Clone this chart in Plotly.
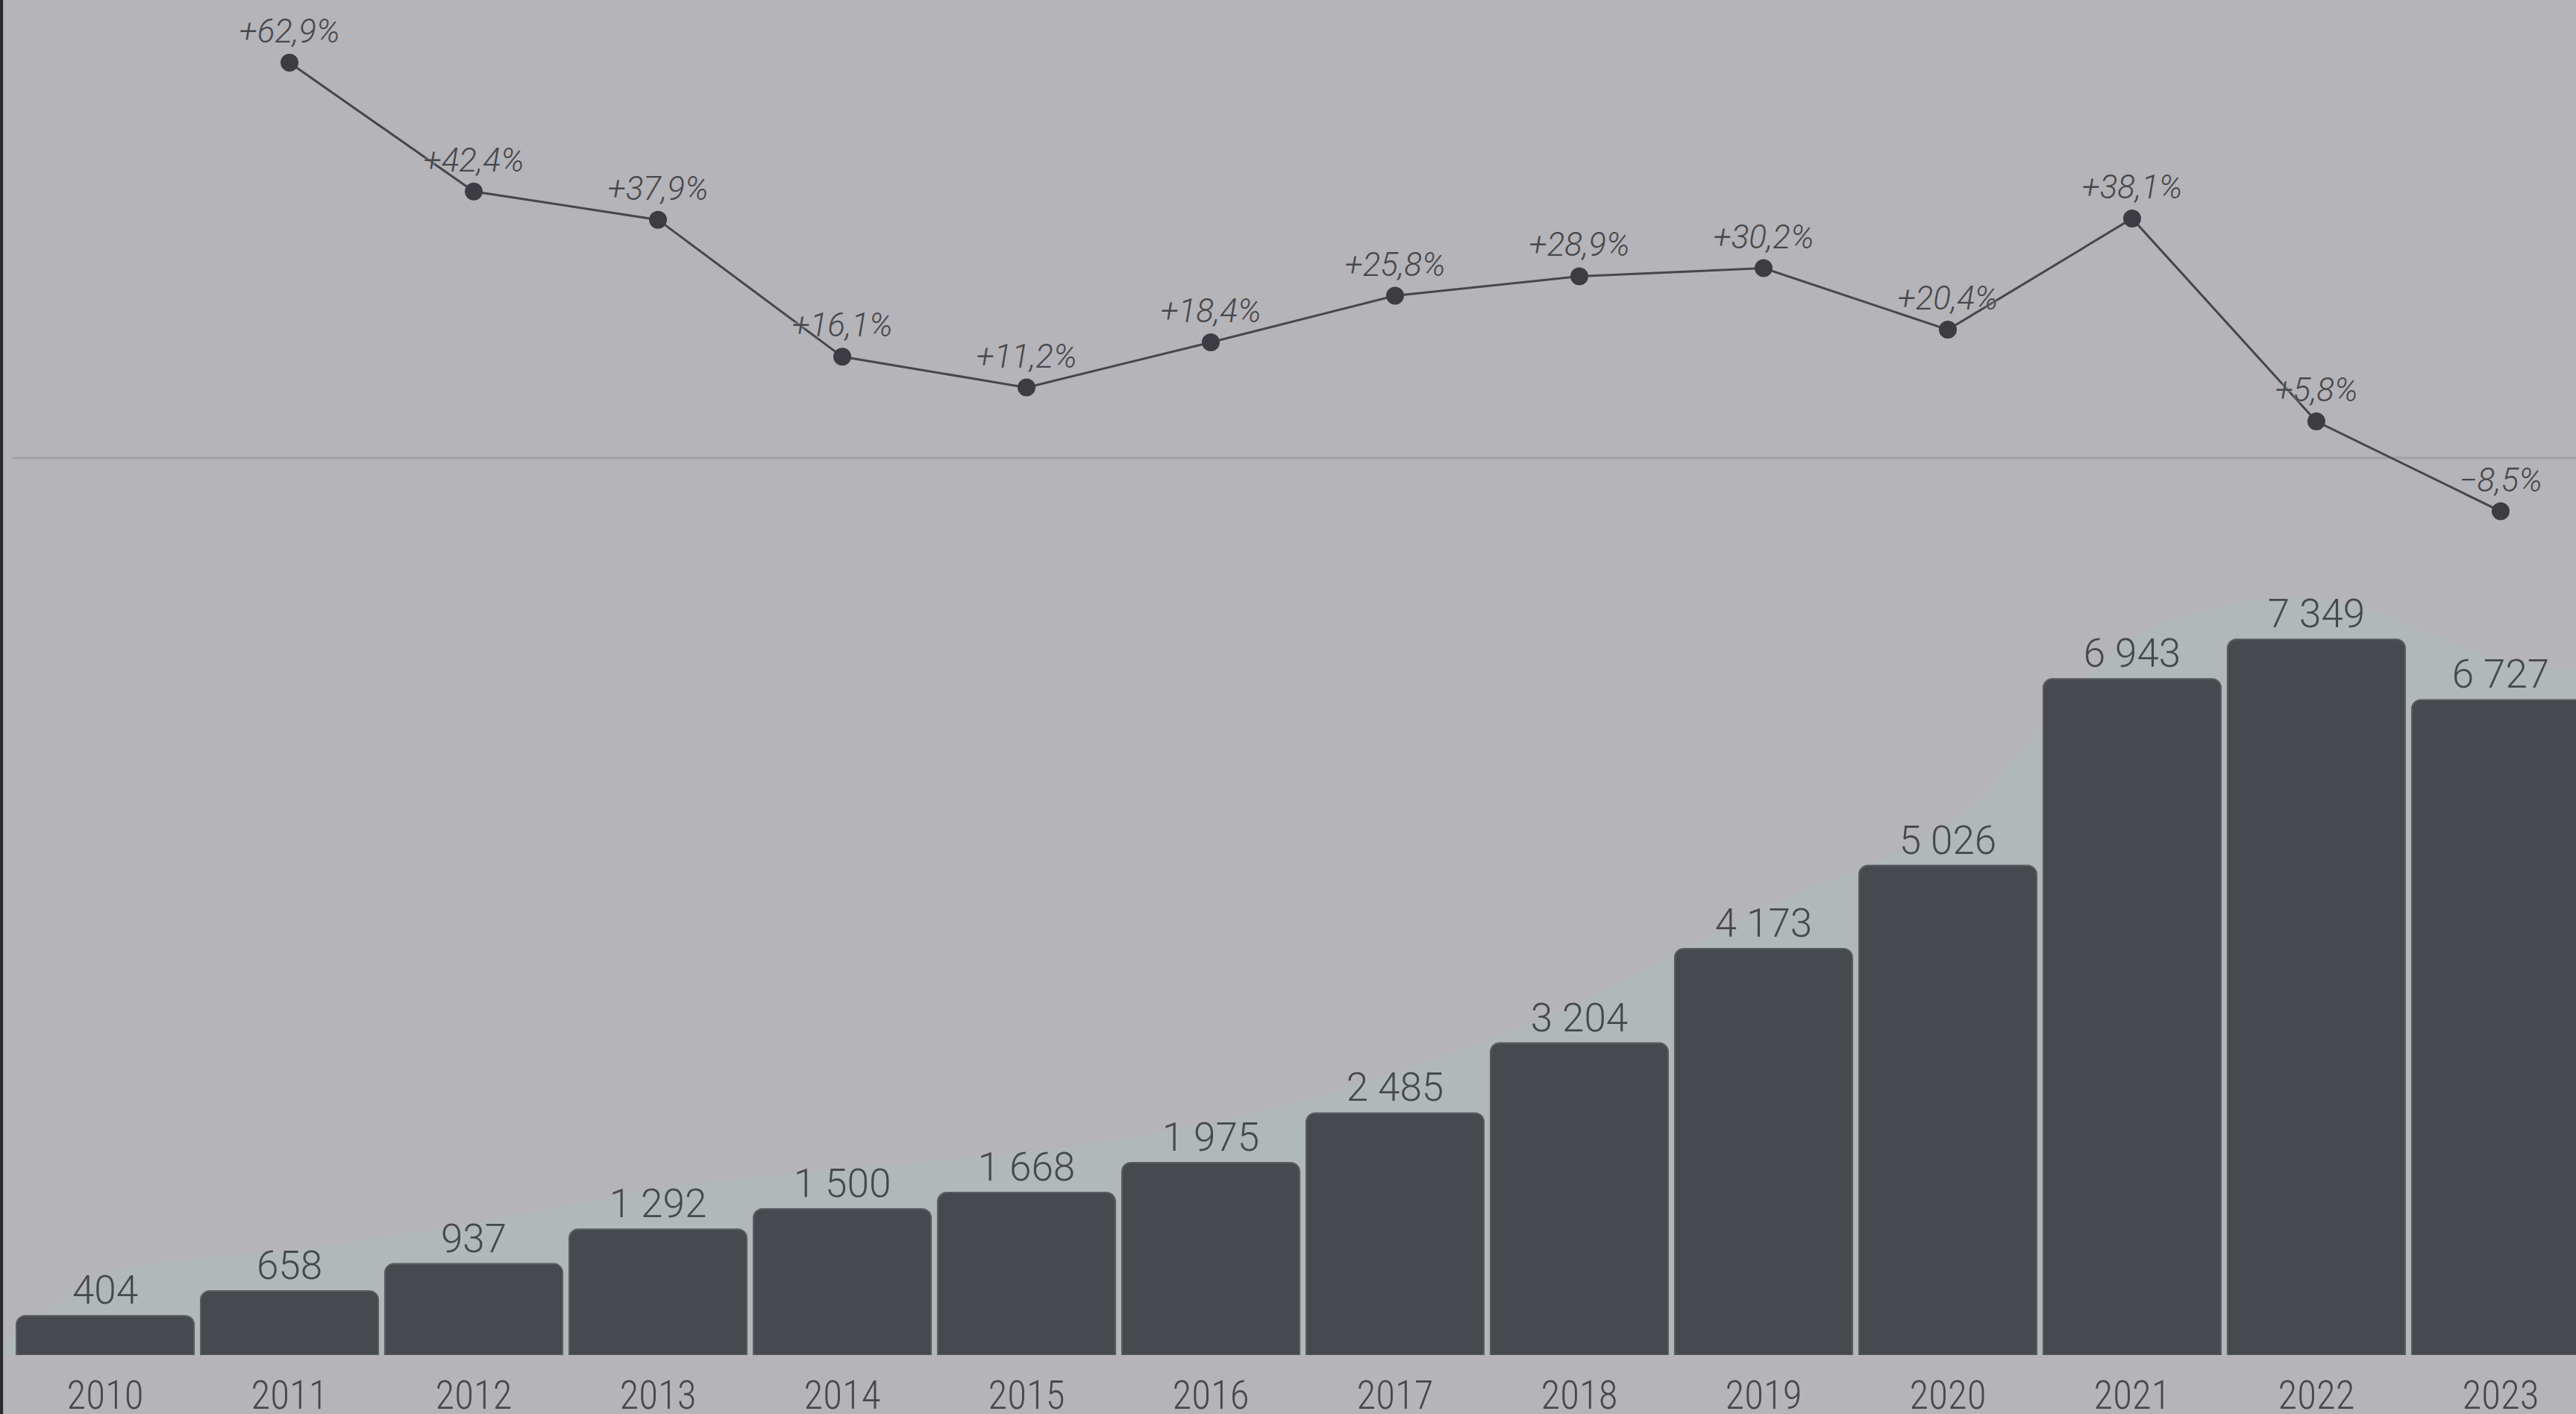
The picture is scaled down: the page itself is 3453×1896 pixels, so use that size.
import plotly.graph_objects as go

# ---- data ----
years = [2010, 2011, 2012, 2013, 2014, 2015, 2016, 2017, 2018, 2019, 2020, 2021, 2022, 2023]
counts = [404, 658, 937, 1292, 1500, 1668, 1975, 2485, 3204, 4173, 5026, 6943, 7349, 6727]
growth_years = [2011, 2012, 2013, 2014, 2015, 2016, 2017, 2018, 2019, 2020, 2021, 2022, 2023]
growth = [62.9, 42.4, 37.9, 16.1, 11.2, 18.4, 25.8, 28.9, 30.2, 20.4, 38.1, 5.8, -8.5]
year_labels = [str(y) for y in years]

count_text = [f"{v:,}".replace(",", " ") for v in counts]
growth_text = [(f"{v:+.1f}%").replace(".", ",").replace("-", "\u2212") for v in growth]

# ---- style ----
BG = "#b5b4b9"
BAR = "#464a4e"
TXT = "#46484c"
FONT = "Roboto, sans-serif"
FONT_COND = "Roboto Condensed, Liberation Sans Narrow, Roboto, sans-serif"

fig = go.Figure()

# soft light halo behind the bars
fig.add_trace(go.Scatter(
    x=[years[0] - 0.6] + years + [years[-1] + 0.6],
    y=[0] + [v + 420 for v in counts] + [counts[-1] + 300],
    mode="lines", line=dict(width=0, shape="spline", smoothing=1.0),
    fill="tozeroy", fillcolor="rgba(176,186,184,0.75)",
    hoverinfo="skip", showlegend=False, xaxis="x", yaxis="y",
))

fig.add_trace(go.Bar(
    x=years, y=counts, text=count_text, textposition="outside",
    textfont=dict(family=FONT, size=53, color=TXT, weight=300),
    marker=dict(color=BAR, line=dict(color="#5a5d61", width=2)),
    width=0.964, cliponaxis=False, showlegend=False,
    xaxis="x", yaxis="y3",
))

fig.add_trace(go.Scatter(
    x=growth_years, y=growth, mode="lines+markers+text",
    text=growth_text, textposition="top center",
    textfont=dict(family=FONT, size=44, color=TXT, style="italic", weight=300,
                  shadow="0px 0px 4px #b5b4b9"),
    line=dict(color="#45474b", width=3),
    marker=dict(color="#3c3d42", size=24),
    cliponaxis=False, showlegend=False, xaxis="x", yaxis="y2",
))

XR = [2009.429, 2023.409]
BAR_DOM = [0.0417, 0.62]
BAR_RANGE = [0, 8396]

fig.update_layout(
    width=3453, height=1896, autosize=False,
    margin=dict(l=0, r=0, t=0, b=0, pad=0),
    paper_bgcolor=BG, plot_bgcolor=BG,
    font=dict(family=FONT, color=TXT),
    barcornerradius=12,
    xaxis=dict(range=XR, tickmode="array", tickvals=years, ticktext=year_labels,
               showgrid=False, zeroline=False, showline=False, ticks="",
               tickfont=dict(family=FONT_COND, size=53, color=TXT, weight=300),
               ticklabelstandoff=18, anchor="y", automargin=False),
    yaxis=dict(domain=BAR_DOM, range=BAR_RANGE, visible=False, showgrid=False,
               automargin=False),
    yaxis3=dict(domain=BAR_DOM, range=BAR_RANGE, visible=False, showgrid=False,
                overlaying="y", anchor="x", automargin=False),
    yaxis2=dict(domain=[0.62, 1.0], range=[-12.64, 72.87], visible=False,
                showgrid=False, anchor="x", automargin=False),
    shapes=[
        dict(type="line", xref="paper", yref="y2", x0=0.0045, x1=1, y0=0, y1=0,
             line=dict(color="#a2a2a4", width=3), layer="below"),
        dict(type="rect", xref="paper", yref="paper", x0=0, x1=0.0012, y0=0, y1=1,
             fillcolor="#2a2a2c", line=dict(width=0), layer="above"),
    ],
)

fig.write_html("out.html", config={"displayModeBar": False},
               post_script="document.body.style.margin='0';document.body.style.overflow='hidden';")
